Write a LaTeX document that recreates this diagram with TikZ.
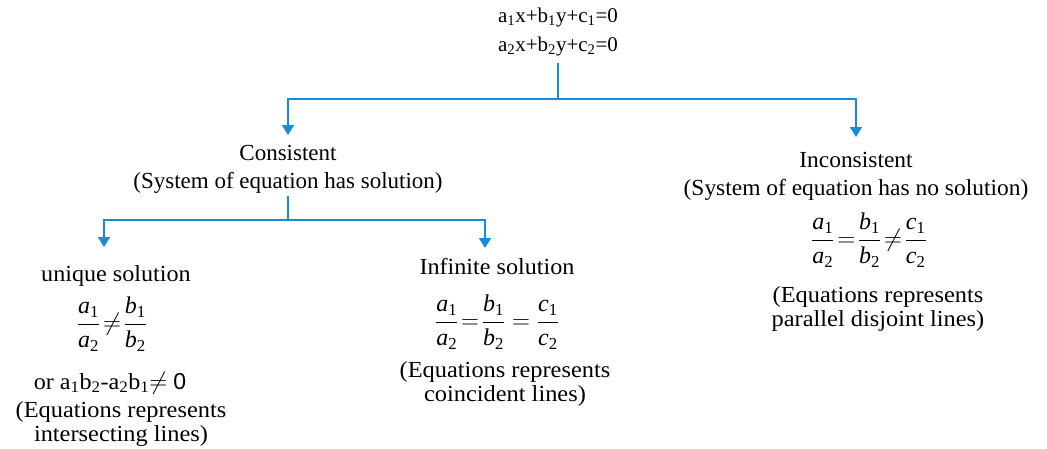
\documentclass[tikz,border=0pt]{standalone}
\usepackage{amsmath}
\usepackage{fontspec}
\setmainfont{Liberation Serif}
\setsansfont{Liberation Sans}
\usetikzlibrary{arrows.meta}
\definecolor{lineblue}{RGB}{26,140,214}
\newcommand{\sbs}[1]{\textsubscript{#1}}
\newcommand{\mv}[2]{\textit{#1}_{\textrm{#2}}}
\tikzset{
  lbl/.style={align=center, inner sep=0pt, font=\fontsize{23}{27}\selectfont\addfontfeature{FakeStretch=1.05}},
  lblcons/.style={align=center, inner sep=0pt, font=\fontsize{23}{28}\selectfont},
  lblincons/.style={align=center, inner sep=0pt, font=\fontsize{23}{28}\selectfont\addfontfeature{FakeStretch=1.02}},
  lbleq/.style={align=center, inner sep=0pt, font=\fontsize{23}{24.5}\selectfont\addfontfeature{FakeStretch=1.06}},
  lbltop/.style={align=center, inner sep=0pt, font=\fontsize{21}{29}\selectfont},
  frac/.style={inner sep=0pt, font=\fontsize{24}{28}\selectfont},
  conn/.style={draw=lineblue, line width=1.6pt},
  arr/.style={conn, -{Triangle[length=10pt,width=12pt]}}
}
\begin{document}
\begin{tikzpicture}[x=1pt,y=-1pt]
\useasboundingbox (0,0) rectangle (1047,448);
% top
\node[lbltop, anchor=north] (top) at (558,8) {a\sbs{1}x+b\sbs{1}y+c\sbs{1}=0\\a\sbs{2}x+b\sbs{2}y+c\sbs{2}=0};
\node[lblcons, anchor=north] (cons) at (288,145) {Consistent\\(System of equation has solution)};
\node[lblincons, anchor=north] (incons) at (856,152) {Inconsistent\\(System of equation has no solution)};
\coordinate (j1) at (558,99);
\draw[conn] ([yshift=-6pt]top.south) -- (j1);
\draw[arr] (j1) -| ([yshift=10pt]cons.north);
\draw[arr] (j1) -| ([yshift=15pt]incons.north);
% consistent children
\node[lbl, anchor=north] (uniq) at (116,265) {unique solution};
\node[lbl, anchor=north] (inf) at (497,258) {Infinite solution};
\coordinate (j2) at (288,220);
\draw[conn] ([yshift=-2pt]cons.south) -- (j2);
\draw[arr] (j2) -| ([xshift=-12pt,yshift=18pt]uniq.north);
\draw[arr] (j2) -| ([xshift=-12pt,yshift=10pt]inf.north);
% unique details
\node[frac] (ufrac) at (112,324) {$\dfrac{\mv{a}{1}}{\mv{a}{2}}\mkern-3mu\neq\mkern-3mu\dfrac{\mv{b}{1}}{\mv{b}{2}}$};
\node[lbl] (uor) at (110,383) {or a\sbs{1}b\sbs{2}-a\sbs{2}b\sbs{1}$\neq$ {\sffamily 0}};
\node[lbleq] (utxt) at (121,424) {(Equations represents\\intersecting lines)};
% infinite details
\node[frac] (ifrac) at (497,322) {$\dfrac{\mv{a}{1}}{\mv{a}{2}}\!=\!\dfrac{\mv{b}{1}}{\mv{b}{2}}=\dfrac{\mv{c}{1}}{\mv{c}{2}}$};
\node[lbleq] (itxt) at (505,384) {(Equations represents\\coincident lines)};
% inconsistent details
\node[frac] (pfrac) at (869,240) {$\dfrac{\mv{a}{1}}{\mv{a}{2}}\!=\!\dfrac{\mv{b}{1}}{\mv{b}{2}}\!\neq\!\dfrac{\mv{c}{1}}{\mv{c}{2}}$};
\node[lbleq] (ptxt) at (878,309) {(Equations represents\\parallel disjoint lines)};
\end{tikzpicture}
\end{document}
